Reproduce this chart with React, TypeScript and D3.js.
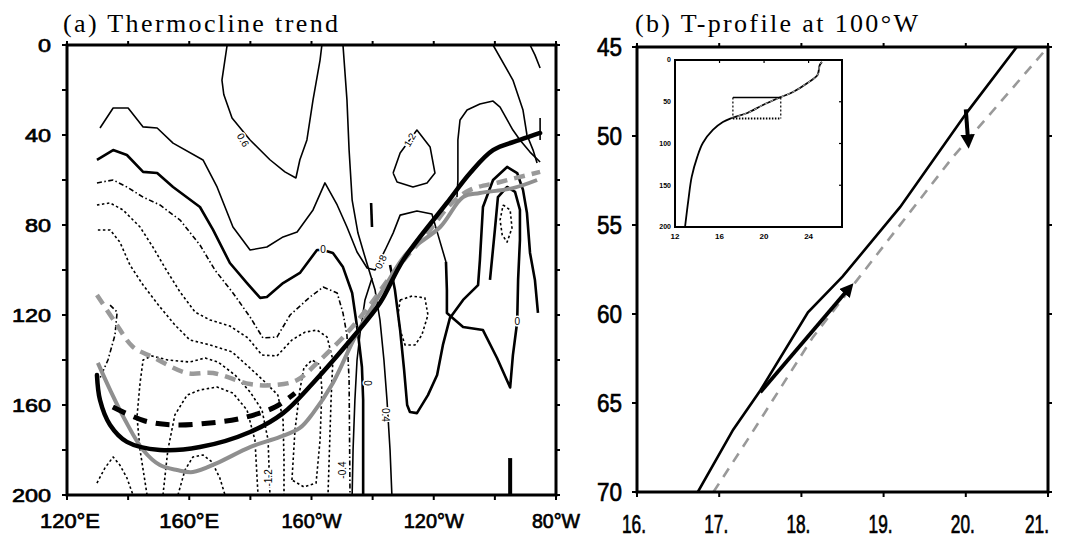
import React from 'react';
import * as d3 from 'd3';

type P = [number, number];

// ---------------- Panel (a): axes ----------------
const aLonTicks = [120, 140, 160, 180, 200, 220, 240, 260, 280];
const aLonLabelValues = [120, 160, 200, 240, 280];
const aLonLabelTexts = ['120°E', '160°E', '160°W', '120°W', '80°W'];
const aDepthTicks = [0, 20, 40, 60, 80, 100, 120, 140, 160, 180, 200];
const aDepthLabels = [0, 40, 80, 120, 160, 200];

// ---------------- Panel (a): thermocline lines (lon, depth) ----------------
const thermoBlack: P[] = [[129.8, 146.7], [130.8, 157.8], [134.1, 168.9], [139.6, 176.4], [150.4, 180], [163.5, 178.7], [179.9, 172], [190.7, 163.6], [200.5, 150.2], [213.6, 129.8], [222.4, 114.7], [230, 95.6], [244.3, 70.2], [251.9, 56.9], [259.4, 46.7], [268.2, 42.2], [274.8, 39.1]];
const thermoBlackDashed: P[] = [[135, 160.9], [145.5, 167.1], [155.3, 168.9], [166.8, 168], [177.3, 165.8], [188.1, 160.9], [194.6, 154.7]];
const thermoGray: P[] = [[130.1, 141.3], [134.1, 153.3], [139, 166.7], [144.9, 180], [150.4, 186.7], [156, 188.9], [161.2, 189.8], [169.1, 185.8], [179.9, 178.7], [189.7, 174.2], [196.2, 170.2], [200.5, 163.6], [207, 150.2], [214.9, 128], [224.7, 105.8], [231.3, 92.4], [242.1, 80.9], [249.6, 67.6], [255.1, 65.8], [265.9, 63.6], [273.8, 60]];
const thermoGrayDashed: P[] = [[129.8, 111.1], [135.7, 123.1], [141.6, 134.2], [148.1, 138.7], [159.3, 145.8], [167.8, 145.8], [179.9, 150.7], [188.1, 151.1], [195.3, 148.9], [202.8, 140], [211.6, 128], [219.1, 115.6], [225.7, 103.1], [232.2, 92.4], [238.8, 82.2], [245.3, 71.1], [251.9, 64.4], [261.7, 60.9], [274.8, 56.4]];

// ---------------- Panel (a): trend contours (lon, depth) ----------------
const c06: P[] = [[172.4, 0], [170.7, 15.6], [171.3, 22], [174, 32.4], [179.9, 42.2], [186.4, 51], [191.3, 56.4], [194.9, 59.1], [196.2, 51], [198.5, 42.2], [200.5, 24.4], [202.8, 6.7], [203.4, 0]];
const c02: P[] = [[130.8, 36.9], [135.1, 28], [140, 28], [144.9, 36.4], [149.5, 36.9], [154.7, 43.6], [164.5, 51.1], [169.1, 63.1], [174.3, 80.9], [179.9, 91.1], [185.4, 89.8], [190.7, 85.3], [195.3, 83.1], [200.5, 73.3], [204.4, 61.3], [208.4, 71.1], [211.6, 80.9], [214.9, 92], [218.2, 99.1], [220.8, 100], [224.1, 91.1], [226.7, 83.6], [229, 75.6], [234.5, 73.8], [239.4, 75.1], [241.4, 84.4], [244, 96.4]];
const cArchInner: P[] = [[244, 96.4], [244.3, 108.9], [244.3, 119.1], [249.6, 125.3], [256.1, 126.7], [260.7, 139.1], [265, 152.2], [265.9, 137.8], [267.3, 123.1], [267.6, 104.4], [268.2, 86.7], [268.2, 73.3], [266.6, 65.3], [264, 63.1], [261, 67.6], [260, 82.2], [258.4, 104.4]];
const cZero: P[] = [[129.8, 51.1], [135.1, 46.7], [139.6, 48.9], [144.9, 56.4], [149.5, 56.9], [154.7, 63.1], [163.5, 72], [167.8, 82.2], [173.3, 96.9], [178.9, 105.8], [183.2, 112.4], [185.4, 112], [190.7, 105.8], [196.2, 101.3], [201.8, 91.1], [203.8, 91.1], [207, 92.4], [210.3, 98.7], [213.3, 110.2], [215.2, 128], [216.5, 143.1], [216.9, 157.8], [216.9, 180], [216.9, 200]];
const cTop: P[] = [[210.3, 0], [211.6, 24.4], [212.3, 46.7], [213.3, 68.9], [215.2, 83.6], [217.8, 95.6], [220.8, 108.9], [222.4, 122.2], [223.7, 140], [224.7, 157.8], [225.7, 180], [226.3, 200]];
const cMid: P[] = [[213.3, 200], [213.6, 180], [214.2, 157.8], [214.9, 140], [215.9, 128], [217.5, 113.3], [219.8, 103.6]];
const cArchOuter: P[] = [[225.7, 97.8], [227.3, 108.9], [229, 126.7], [230.3, 144.4], [231.3, 160], [232.2, 163.1], [234.5, 163.6], [238.1, 155.6], [241.1, 146.7], [243, 133.3], [245.3, 121.3], [249.6, 113.3], [254.5, 106.7], [255.1, 95.6], [256.1, 72], [259.4, 60], [264, 54.2], [267.3, 56.9], [269.2, 64.4], [270.5, 74.7], [271.5, 92.4], [273.1, 104.4], [274.1, 119.1]];
const c12Loop: P[] = [[226.7, 56.9], [229, 48], [234.5, 37.8], [238.8, 45.3], [240.4, 56.9], [237.8, 61.3], [233.2, 63.1], [228, 60.9], [226.7, 56.9]];
const c12Big: P[] = [[247.6, 67.6], [247.9, 60], [247.9, 42.2], [248.6, 33.3], [250.9, 28.9], [255.1, 26.2], [259.4, 24.9], [261.7, 27.6], [265.9, 37.8], [268.2, 42.2], [271.5, 47.6], [274.8, 52]];
const cRight1: P[] = [[259.4, 0], [265.9, 15.6], [269.2, 28.9], [270.5, 40], [272.5, 46.7], [273.8, 52.4]];
const cRight2: P[] = [[271.5, 0], [273.1, 4.4], [274.8, 10.2]];
const cRight3: P[] = [[274.8, 32.4], [274.8, 42.2]];
const cDash: P[] = [[219.5, 70.2], [219.8, 80.9]];
const cBar: P[] = [[265, 183.6], [265, 200]];
const nLoop120W: P[] = [[229, 113.3], [232.9, 111.6], [237.1, 112.4], [238.1, 120], [236.1, 128.9], [233.9, 133.3], [230.6, 133.3], [229, 126.7], [228.3, 120], [229, 113.3]];
const nLoopArch: P[] = [[262.7, 71.1], [265, 73.3], [265.6, 81.3], [264, 87.6], [262.4, 84.4], [261.7, 77.8], [262.7, 71.1]];
const n1: P[] = [[129.8, 61.3], [135.1, 60], [139.6, 63.1], [144.9, 67.6], [150.4, 71.1], [157, 77.8], [163.5, 88.9], [168.4, 100], [174.3, 110.2], [179.9, 120.9], [184.1, 130.2], [188.7, 129.8], [193, 120], [199.5, 112], [203.8, 107.6], [208.4, 110.2], [210.3, 119.1], [211.6, 128.9], [212.3, 148.9], [212.6, 200]];
const n2: P[] = [[129.8, 71.1], [134.1, 70.2], [138.3, 73.3], [143.9, 80.9], [148.1, 89.8], [152.1, 99.1], [157, 109.8], [161.9, 118.7], [166.8, 122.2], [173.3, 124.9], [179.2, 130.2], [183.8, 137.8], [188.7, 138.2], [193.6, 131.1], [197.9, 127.6], [201.8, 126.7], [205.1, 129.8], [207, 140], [206.4, 157.8], [205.4, 200]];
const n3: P[] = [[130.1, 82.2], [134.1, 82.2], [137.3, 87.6], [140.6, 97.8], [144.9, 106.7], [150.4, 116.4], [155.3, 124.4], [160.2, 131.1], [166.8, 133.3], [174, 136.4], [179.9, 143.6], [184.8, 149.8], [189, 155.6], [190.7, 166.7], [191, 184.4], [191, 200]];
const n4: P[] = [[146.2, 200], [143.9, 180], [142.9, 165.3], [143.9, 150.2], [144.9, 140], [147.8, 138.2], [153, 140], [160.2, 140.9], [165.2, 139.1], [169.4, 140.9], [175, 146.7], [179.9, 154.2], [183.8, 162.2], [185.8, 175.6], [186.4, 200]];
const n5: P[] = [[151.4, 200], [153, 180], [155.3, 164.4], [159.3, 155.6], [163.5, 153.3], [169.1, 152], [174.3, 154.7], [178.9, 162.2], [181.5, 175.6], [182.5, 200]];
const n6: P[] = [[129.8, 194.7], [132.4, 188], [135.1, 183.1], [137.3, 186.7], [139.6, 192.4], [141.6, 200]];
const n7: P[] = [[156.3, 200], [158.6, 188.9], [161.2, 183.1], [164.5, 182.2], [167.4, 185.3], [170, 192.4], [171.7, 200]];
const nLoopDeep: P[] = [[193.6, 193.3], [194.6, 171.1], [196.2, 153.3], [197.5, 143.6], [200.2, 140], [202.8, 142.2], [203.4, 153.3], [202.8, 175.6], [201.5, 194.7], [197.5, 196.4], [193.6, 193.3]];
const nLeft: P[] = [[134.1, 115.6], [136.4, 118.7], [135.7, 128.9], [133.4, 140], [130.8, 148]];

const contourLabelTexts = ['0.6', '1.2', '0.8', '0', '0.4', '-0.4', '-1.2', '0', '0'];
const contourLabelLons = [177.6, 232.2, 222.7, 218.2, 224.1, 210.3, 185.8, 267.3, 203.8];
const contourLabelDepths = [42.2, 42.2, 96.4, 150.2, 164.4, 188.9, 192.4, 123.1, 91.1];

// ---------------- Panel (b) ----------------
const bTempTicks = [16, 17, 18, 19, 20, 21];
const bTempLabels = ['16.', '17.', '18.', '19.', '20.', '21.'];
const bDepthTicks = [45, 50, 55, 60, 65, 70];
const profileSolid: P[] = [[16.74, 70], [17.17, 66.5], [17.5, 64.3], [18.08, 59.9], [18.5, 57.9], [19.2, 54], [20.01, 48.7], [20.62, 45]];
const profileDashed: P[] = [[16.93, 70], [17.34, 67.1], [18.14, 61.3], [18.71, 57.9], [19.84, 51.2], [21, 45]];
const arrowMain: P[] = [[17.5, 64.4], [18.59, 58.5]];
const arrowSmall: P[] = [[20.0, 48.5], [20.03, 50.4]];

// inset (full profile 0-200 m)
const insetTempTicks = [12, 16, 20, 24];
const insetDepthTicks = [0, 50, 100, 150, 200];
const insetProfile: P[] = [[12.9, 200], [13.2, 167.7], [13.5, 140], [14, 116], [14.5, 99.4], [15.4, 83.8], [16.3, 74.3], [17.1, 69.5], [18.5, 63.5], [19.9, 53.9], [21.3, 45.5], [22.6, 38.3], [23.9, 27.5], [24.8, 18], [25, 6], [25.2, 2.4]];
const insetUpper: P[] = [[17.1, 69.5], [18.5, 63.5], [19.9, 53.9], [21.3, 45.5], [22.6, 38.3], [23.9, 27.5], [24.8, 18], [25, 6], [25.2, 2.4]];
const insetBoxTemp = [17.2, 21.5];
const insetBoxDepth = [45, 70];

const SANS = 'Liberation Sans, Arial, sans-serif';
const SERIF = 'Liberation Serif, Times New Roman, serif';

export default function App() {
  const W = 1066, H = 540;
  const ax = d3.scaleLinear().domain([120, 280]).range([67, 556]);
  const ay = d3.scaleLinear().domain([0, 200]).range([45, 495]);
  const bx = d3.scaleLinear().domain([16, 21]).range([637, 1048]);
  const by = d3.scaleLinear().domain([45, 70]).range([47, 492]);
  const ix = d3.scaleLinear().domain([12, 27]).range([675, 842]);
  const iy = d3.scaleLinear().domain([0, 200]).range([60, 227]);

  const aLin = d3.line<P>().x(d => ax(d[0])).y(d => ay(d[1]));
  const aSmooth = d3.line<P>().x(d => ax(d[0])).y(d => ay(d[1])).curve(d3.curveCatmullRom.alpha(0.5));
  const bLin = d3.line<P>().x(d => bx(d[0])).y(d => by(d[1]));
  const iLin = d3.line<P>().x(d => ix(d[0])).y(d => iy(d[1])).curve(d3.curveCatmullRom.alpha(0.5));

  const styles: Record<string, any> = {
    thin: { stroke: '#000', strokeWidth: 1.6 },
    med: { stroke: '#000', strokeWidth: 2.6 },
    dot: { stroke: '#000', strokeWidth: 1.6, strokeDasharray: '2.5,2.5' },
    dashdot: { stroke: '#000', strokeWidth: 1.6, strokeDasharray: '5,2.5,1.5,2.5' },
    bar: { stroke: '#000', strokeWidth: 4 },
  };
  const contours: [P[], string][] = [
    [c06, 'thin'], [c02, 'thin'], [cArchInner, 'med'], [cZero, 'med'], [cTop, 'thin'], [cMid, 'thin'],
    [cArchOuter, 'med'], [c12Loop, 'thin'], [c12Big, 'thin'], [cRight1, 'thin'], [cRight2, 'thin'],
    [cRight3, 'thin'], [cDash, 'med'], [cBar, 'bar'], [nLoop120W, 'dot'], [nLoopArch, 'dot'],
    [n1, 'dashdot'], [n2, 'dot'], [n3, 'dot'], [n4, 'dot'], [n5, 'dot'], [n6, 'dot'], [n7, 'dot'],
    [nLoopDeep, 'dot'], [nLeft, 'dashdot'],
  ];
  const labelAngles = [60, -60, -65, 90, 90, -90, -90, 0, 0];

  const tickLabelStyle = { fontFamily: SANS, fill: '#000', stroke: '#000', strokeWidth: 0.7 } as any;

  return (
    <svg width={W} height={H} viewBox={`0 0 ${W} ${H}`} style={{ position: 'absolute', left: 0, top: 0, background: '#fff', opacity: 0.999 }}>
      <defs>
        <marker id="ahead" viewBox="0 0 10 10" refX="6" refY="5" markerWidth="3.6" markerHeight="3.6" orient="auto">
          <path d="M0,0 L10,5 L0,10 z" fill="#000" />
        </marker>
        <clipPath id="clipA"><rect x={ax(120)} y={ay(0)} width={ax(280) - ax(120)} height={ay(200) - ay(0)} /></clipPath>
        <clipPath id="clipB"><rect x={bx(16)} y={by(45)} width={bx(21) - bx(16)} height={by(70) - by(45)} /></clipPath>
      </defs>

      {/* ---------- Panel (a) ---------- */}
      <text x={63} y={32} fontFamily={SERIF} fontSize={26} textLength={275} lengthAdjust="spacing">(a) Thermocline trend</text>
      <g clipPath="url(#clipA)" fill="none">
        {contours.map(([pts, k], i) => (
          <path key={'c' + i} d={aLin(pts) || ''} {...styles[k]} strokeLinejoin="round" />
        ))}
        {contourLabelTexts.map((t, i) => (
          <text key={'cl' + i} x={ax(contourLabelLons[i])} y={ay(contourLabelDepths[i])} fontSize={10} fontFamily={SANS}
            textAnchor="middle" dy="0.35em" fill="#000" stroke="#fff" strokeWidth={3} paintOrder="stroke"
            transform={`rotate(${labelAngles[i]},${ax(contourLabelLons[i])},${ay(contourLabelDepths[i])})`}>{t}</text>
        ))}
        <path d={aSmooth(thermoGrayDashed) || ''} stroke="#9a9a9a" strokeWidth={4.5} strokeDasharray="11,7" />
        <path d={aSmooth(thermoGray) || ''} stroke="#8f8f8f" strokeWidth={4} />
        <path d={aSmooth(thermoBlackDashed) || ''} stroke="#000" strokeWidth={5} strokeDasharray="14,9" />
        <path d={aSmooth(thermoBlack) || ''} stroke="#000" strokeWidth={4.5} strokeLinecap="round" />
      </g>
      <rect x={ax(120)} y={ay(0)} width={ax(280) - ax(120)} height={ay(200) - ay(0)} fill="none" stroke="#000" strokeWidth={3} />
      {aLonTicks.map(v => (
        <g key={'alt' + v}>
          <line x1={ax(v)} x2={ax(v)} y1={ay(200)} y2={ay(200) + 5} stroke="#000" strokeWidth={2} />
          <line x1={ax(v)} x2={ax(v)} y1={ay(0)} y2={ay(0) - 4} stroke="#000" strokeWidth={2} />
        </g>
      ))}
      {aDepthTicks.map(v => (
        <g key={'adt' + v}>
          <line x1={ax(120)} x2={ax(120) - 5} y1={ay(v)} y2={ay(v)} stroke="#000" strokeWidth={2} />
          <line x1={ax(280)} x2={ax(280) + 4} y1={ay(v)} y2={ay(v)} stroke="#000" strokeWidth={2} />
        </g>
      ))}
      {aDepthLabels.map(v => (
        <text key={'adl' + v} x={51} y={ay(v)} dy="0.36em" fontSize={19} textAnchor="end" {...tickLabelStyle}
          textLength={String(v).length * 13} lengthAdjust="spacingAndGlyphs">{v}</text>
      ))}
      {aLonLabelValues.map((v, i) => (
        <text key={'all' + v} x={ax(v) + (i === 0 ? 3 : 0)} y={528} fontSize={21} textAnchor="middle" {...tickLabelStyle}
          textLength={aLonLabelTexts[i].length * 12} lengthAdjust="spacingAndGlyphs">{aLonLabelTexts[i]}</text>
      ))}

      {/* ---------- Panel (b) ---------- */}
      <text x={635} y={32} fontFamily={SERIF} fontSize={26} textLength={283} lengthAdjust="spacing">(b) T-profile at 100°W</text>
      <g clipPath="url(#clipB)" fill="none">
        <path d={bLin(profileDashed) || ''} stroke="#999" strokeWidth={2.6} strokeDasharray="10,8" />
        <path d={bLin(profileSolid) || ''} stroke="#000" strokeWidth={2.6} />
        <path d={bLin(arrowMain) || ''} stroke="#000" strokeWidth={3.8} markerEnd="url(#ahead)" />
        <path d={bLin(arrowSmall) || ''} stroke="#000" strokeWidth={4} markerEnd="url(#ahead)" />
      </g>
      <rect x={bx(16)} y={by(45)} width={bx(21) - bx(16)} height={by(70) - by(45)} fill="none" stroke="#000" strokeWidth={3} />
      {bTempTicks.map(v => (
        <g key={'btt' + v}>
          <line x1={bx(v)} x2={bx(v)} y1={by(70)} y2={by(70) + 5} stroke="#000" strokeWidth={2} />
          <line x1={bx(v)} x2={bx(v)} y1={by(45)} y2={by(45) - 4} stroke="#000" strokeWidth={2} />
        </g>
      ))}
      {bDepthTicks.map(v => (
        <g key={'bdt' + v}>
          <line x1={bx(16)} x2={bx(16) - 5} y1={by(v)} y2={by(v)} stroke="#000" strokeWidth={2} />
          <line x1={bx(21)} x2={bx(21) + 4} y1={by(v)} y2={by(v)} stroke="#000" strokeWidth={2} />
        </g>
      ))}
      {bDepthTicks.map(v => (
        <text key={'bdl' + v} x={622} y={by(v)} dy="0.36em" fontSize={26} textAnchor="end" {...tickLabelStyle}
          textLength={25} lengthAdjust="spacingAndGlyphs">{v}</text>
      ))}
      {bTempTicks.map((v, i) => (
        <text key={'btl' + v} x={Math.min(bx(v) - 3, 1037)} y={533} fontSize={26} textAnchor="middle" {...tickLabelStyle}
          textLength={24} lengthAdjust="spacingAndGlyphs">{bTempLabels[i]}</text>
      ))}

      {/* inset */}
      <rect x={ix(12)} y={iy(0)} width={ix(27) - ix(12)} height={iy(200) - iy(0)} fill="#fff" stroke="#000" strokeWidth={2} />
      <path d={iLin(insetProfile) || ''} fill="none" stroke="#000" strokeWidth={1.8} />
      <path d={iLin(insetUpper) || ''} fill="none" stroke="#bbb" strokeWidth={1} strokeDasharray="3,3" />
      <line x1={ix(insetBoxTemp[0])} x2={ix(insetBoxTemp[1])} y1={iy(insetBoxDepth[0])} y2={iy(insetBoxDepth[0])} stroke="#000" strokeWidth={1.5} />
      <line x1={ix(insetBoxTemp[0])} x2={ix(insetBoxTemp[1])} y1={iy(insetBoxDepth[1])} y2={iy(insetBoxDepth[1])} stroke="#000" strokeWidth={2} strokeDasharray="1.5,1.5" />
      <line x1={ix(insetBoxTemp[0])} x2={ix(insetBoxTemp[0])} y1={iy(insetBoxDepth[0])} y2={iy(insetBoxDepth[1])} stroke="#000" strokeWidth={1.2} strokeDasharray="2,2" />
      <line x1={ix(insetBoxTemp[1])} x2={ix(insetBoxTemp[1])} y1={iy(insetBoxDepth[0])} y2={iy(insetBoxDepth[1])} stroke="#000" strokeWidth={1.2} strokeDasharray="2,2" />
      {insetTempTicks.map(v => (
        <g key={'itt' + v}>
          <line x1={ix(v)} x2={ix(v)} y1={iy(0)} y2={iy(0) + 3} stroke="#000" strokeWidth={1.2} />
          <text x={ix(v)} y={239} fontSize={8} fontWeight="bold" textAnchor="middle" fontFamily={SANS}>{v}</text>
        </g>
      ))}
      {insetDepthTicks.map(v => (
        <g key={'idt' + v}>
          <line x1={ix(27)} x2={ix(27) - 3} y1={iy(v)} y2={iy(v)} stroke="#000" strokeWidth={1.2} />
          <text x={671} y={iy(v)} dy="0.35em" fontSize={7} fontWeight="bold" textAnchor="end" fontFamily={SANS}>{v}</text>
        </g>
      ))}
    </svg>
  );
}
